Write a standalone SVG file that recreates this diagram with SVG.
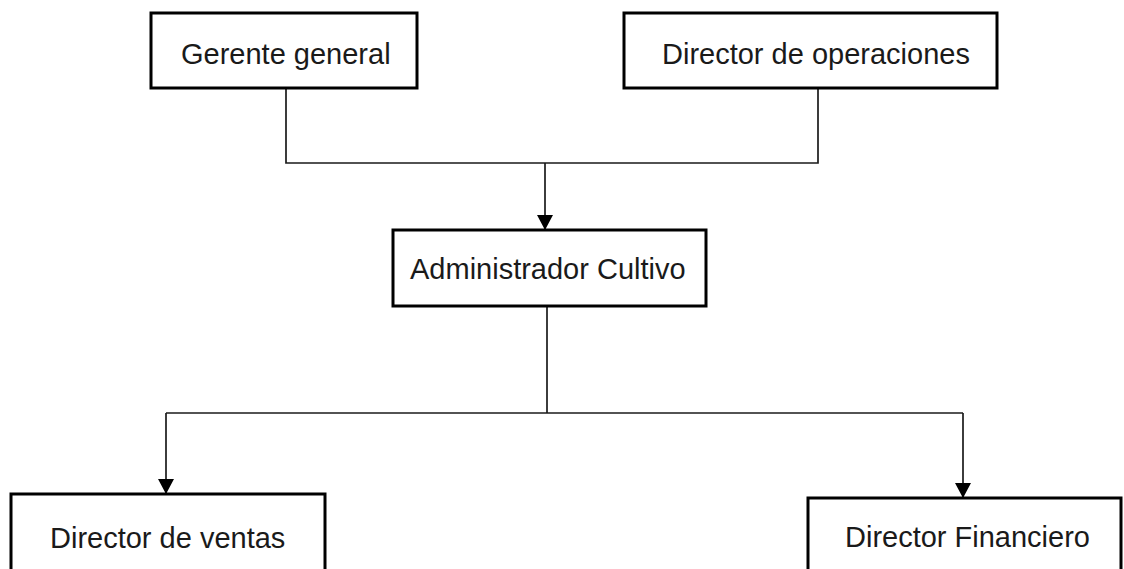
<svg xmlns="http://www.w3.org/2000/svg" width="1124" height="569" viewBox="0 0 1124 569">
<style>
.box{fill:#fff;stroke:#000;stroke-width:3}
.lbl{font-family:"Liberation Sans",Arial,sans-serif;font-size:29px;fill:#1a1a1a}
.con{fill:none;stroke:#1a1a1a;stroke-width:1.7}
</style>
<defs>
<marker id="arr" markerWidth="15" markerHeight="16" refX="14" refY="8" orient="auto" markerUnits="userSpaceOnUse">
<path d="M0,0 L15,8 L0,16 Z" fill="#000"/>
</marker>
</defs>
<rect width="1124" height="569" fill="#fff"/>
<g id="connectors">
<path class="con" d="M286,88 V163 H818 V88"/>
<path class="con" d="M545,163 V229" marker-end="url(#arr)"/>
<path class="con" d="M547,306 V413"/>
<path class="con" d="M166,413 H963"/>
<path class="con" d="M166,413 V493" marker-end="url(#arr)"/>
<path class="con" d="M963,413 V497" marker-end="url(#arr)"/>
</g>
<g id="gerente">
<rect class="box" x="151" y="13" width="266" height="75"/>
<text class="lbl" x="181" y="64">Gerente general</text>
</g>
<g id="operaciones">
<rect class="box" x="624" y="13" width="373" height="75"/>
<text class="lbl" x="662" y="64">Director de operaciones</text>
</g>
<g id="administrador">
<rect class="box" x="393" y="230" width="313" height="76"/>
<text class="lbl" x="410" y="279">Administrador Cultivo</text>
</g>
<g id="ventas">
<rect class="box" x="11" y="494" width="314" height="90"/>
<text class="lbl" x="50" y="548">Director de ventas</text>
</g>
<g id="financiero">
<rect class="box" x="808" y="498" width="313" height="90"/>
<text class="lbl" x="845" y="547">Director Financiero</text>
</g>
</svg>
